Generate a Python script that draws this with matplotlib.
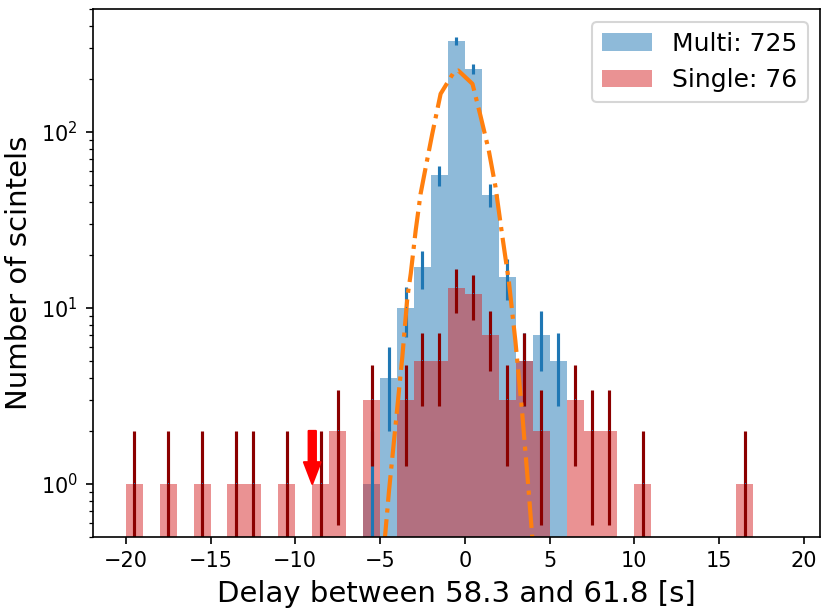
import numpy as np
import matplotlib
matplotlib.use('Agg')
from matplotlib import pyplot as plt

# histogram bin centres and counts (delay in s, 1 s bins)
multi_x = [-5.5, -4.5, -3.5, -2.5, -1.5, -0.5, 0.5, 1.5, 2.5, 3.5, 4.5, 5.5]
multi_n = [1, 4, 10, 17, 57, 331, 229, 44, 15, 5, 7, 5]

single_x = [-19.5, -17.5, -15.5, -13.5, -12.5, -10.5, -8.5, -7.5, -5.5, -3.5,
            -2.5, -1.5, -0.5, 0.5, 1.5, 2.5, 3.5, 4.5, 6.5, 7.5, 8.5, 10.5, 16.5]
single_n = [1, 1, 1, 1, 1, 1, 1, 2, 3, 3, 5, 5, 13, 12, 7, 3, 5, 2, 3, 2, 2, 1, 1]

# gaussian fit of the multi sample
fit_x = [-5.0, -4.71, -4.47, -4.08, -3.69, -3.39, -3.19, -2.90, -2.61, -2.31, -1.92,
         -1.43, -0.65, -0.39, 0.45, 0.92, 1.41, 1.81, 2.19, 2.59, 2.98, 3.37, 3.76,
         3.96, 4.2]
fit_y = [0.25, 0.5, 0.92, 2.19, 5.25, 11.5, 15.7, 27.6, 44.6, 63, 98,
         165, 219, 224, 188, 124, 78.7, 48.7, 26.4, 14.3, 6.5, 2.61, 0.92,
         0.52, 0.25]

arrow_x = -9.0
edges = np.arange(-20, 20)


def main():
    fig = plt.figure(figsize=(830 / 150, 610 / 150), dpi=150)
    ax = fig.add_axes([0.1117, 0.120, 0.8763, 0.865])

    ax.hist(multi_x, bins=edges, weights=multi_n, color='tab:blue', alpha=0.5,
            label='Multi: %d' % sum(multi_n))
    ax.hist(single_x, bins=edges, weights=single_n, color='tab:red', alpha=0.5,
            label='Single: %d' % sum(single_n))

    ax.errorbar(multi_x, multi_n, yerr=np.sqrt(multi_n), fmt=',', color='C0',
                ecolor='C0', lw=1.5)
    ax.errorbar(single_x, single_n, yerr=np.sqrt(single_n), fmt=',', color='C0',
                ecolor='darkred', lw=1.5)

    ax.plot(fit_x, fit_y, '-.', color='C1', lw=2)

    ax.annotate('', xy=(arrow_x, 1.0), xytext=(arrow_x, 2.0),
                arrowprops=dict(facecolor='red', edgecolor='red', width=3.5,
                                headwidth=8, headlength=10.4, shrink=0))

    ax.set_yscale('log')
    ax.set_ylim(0.5, 500)
    ax.set_xticks([-20, -15, -10, -5, 0, 5, 10, 15, 20])
    ax.tick_params(labelsize=10)
    ax.set_xlabel('Delay between 58.3 and 61.8 [s]', fontsize=14)
    ax.set_ylabel('Number of scintels', fontsize=14)
    ax.legend(loc='upper right', fontsize=12)

    fig.savefig('out.png', dpi=150)


if __name__ == "__main__":
    main()
